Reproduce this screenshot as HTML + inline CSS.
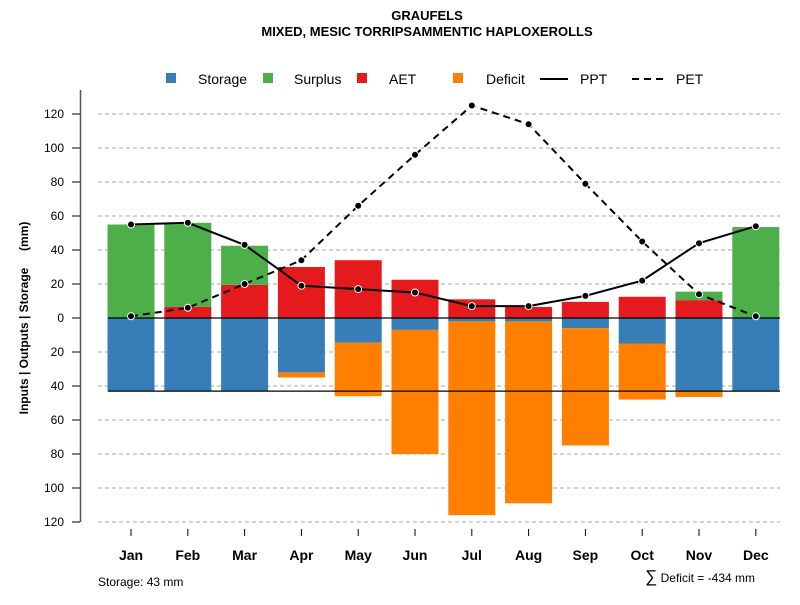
<!DOCTYPE html>
<html><head><meta charset="utf-8"><style>
body{margin:0;background:#fff}
svg{font-family:"Liberation Sans",sans-serif}
</style></head><body>
<svg id="chart" width="800" height="600">
<text x="427" y="20" text-anchor="middle" font-size="13" font-weight="bold">GRAUFELS</text>
<text x="427" y="36" text-anchor="middle" font-size="13" font-weight="bold">MIXED, MESIC TORRIPSAMMENTIC HAPLOXEROLLS</text>
<g id="grid"></g><g id="bars"></g><g id="lines"></g><g id="axes"></g>
<g font-size="14">
<rect x="166" y="73" width="10" height="10" fill="#377EB8"/>
<text x="198" y="84">Storage</text>
<rect x="263" y="73" width="10" height="10" fill="#4DAF4A"/>
<text x="294" y="84">Surplus</text>
<rect x="357" y="73" width="10" height="10" fill="#E41A1C"/>
<text x="389" y="84">AET</text>
<rect x="453" y="73" width="10" height="10" fill="#FF7F00"/>
<text x="486" y="84">Deficit</text>
<line x1="540" y1="79" x2="568" y2="79" stroke="#000" stroke-width="2"/>
<text x="580" y="84">PPT</text>
<line x1="632" y1="79" x2="664" y2="79" stroke="#000" stroke-width="2" stroke-dasharray="7,5"/>
<text x="676" y="84">PET</text>
</g>
<text transform="translate(28,318) rotate(-90)" text-anchor="middle" font-size="12" font-weight="bold" xml:space="preserve" style="white-space:pre">Inputs | Outputs | Storage     (mm)</text>
<text x="98" y="586" font-size="12">Storage: 43 mm</text>
<text x="755" y="582" text-anchor="end" font-size="12"><tspan font-size="17">∑</tspan> Deficit = -434 mm</text>
</svg>
<script>
const months=["Jan","Feb","Mar","Apr","May","Jun","Jul","Aug","Sep","Oct","Nov","Dec"];
const aet=[0,6.5,19.5,30,34,22.5,11,6.5,9.5,12.5,10.5,0];
const surplus=[55,49.5,23,0,0,0,0,0,0,0,5,53.5];
const storageNeg=[43,43,43,32,14.5,7,2,2,6,15,43,43];
const deficit=[0,0,0,3,31.5,73,114,107,69,33,3.5,0];
const ppt=[55,56,43,19,17,15,7,7,13,22,44,54];
const pet=[1,6,20,34,66,96,125,114,79,45,14,1];
const yTicks=[-120,-100,-80,-60,-40,-20,0,20,40,60,80,100,120];
const storageCap=43;
const NS="http://www.w3.org/2000/svg";
const y=v=>318-v*1.7;
const x=i=>131+i*56.8;
const bw=47;
function mk(p,t,a){const e=document.createElementNS(NS,t);for(const k in a)e.setAttribute(k,a[k]);document.getElementById(p).appendChild(e);return e;}
yTicks.forEach(t=>{
 if(t!==0){const g=mk("grid","line",{x1:98,x2:780,y1:y(t),y2:y(t),stroke:"#aaa","stroke-dasharray":"4,3"});
 
 }
 const tk=mk("axes","line",{x1:72,x2:80,y1:y(t),y2:y(t),stroke:"#000"});
 
 
 const tl=mk("axes","text",{x:64,y:y(t)+4,"text-anchor":"end","font-size":12});
 tl.textContent=Math.abs(t);
 
 
});
const ax=mk("axes","line",{x1:80.5,x2:80.5,y1:90,y2:522,stroke:"#555","stroke-width":1.5});


months.forEach((m,i)=>{
 const stack=[[aet[i],"#E41A1C","aet-bar"],[surplus[i],"#4DAF4A","surplus-bar"]];
 let b=0;
 stack.forEach(([v,c,n])=>{if(v>0){const r=mk("bars","rect",{x:x(i)-bw/2,y:y(b+v),width:bw,height:v*1.7,fill:c});
 
 }b+=v;});
 const r1=mk("bars","rect",{x:x(i)-bw/2,y:y(0),width:bw,height:storageNeg[i]*1.7,fill:"#377EB8"});
 
 
 if(deficit[i]>0){const r2=mk("bars","rect",{x:x(i)-bw/2,y:y(-storageNeg[i]),width:bw,height:deficit[i]*1.7,fill:"#FF7F00"});
 
 }
 const t=mk("axes","line",{x1:x(i),x2:x(i),y1:529,y2:536,stroke:"#000"});
 
 
 const l=mk("axes","text",{x:x(i),y:560,"text-anchor":"middle","font-size":14,"font-weight":"bold"});
 l.textContent=m;
 
 
});
const z=mk("lines","line",{x1:108,x2:780,y1:y(0),y2:y(0),stroke:"#000","stroke-width":1.2});


const sl=mk("lines","line",{x1:108,x2:780,y1:y(-storageCap),y2:y(-storageCap),stroke:"#000","stroke-width":1.2});


[[ppt,"none","ppt-line"],[pet,"7,5","pet-line"]].forEach(([d,da,n])=>{
 const p=mk("lines","polyline",{points:d.map((v,i)=>x(i)+","+y(v)).join(" "),fill:"none",stroke:"#000","stroke-width":2,"stroke-dasharray":da});
 
 
 d.forEach((v,i)=>{const c=mk("lines","circle",{cx:x(i),cy:y(v),r:3.5,fill:"#000",stroke:"#fff","stroke-width":1});
 
 });
});
</script>
</body></html>
